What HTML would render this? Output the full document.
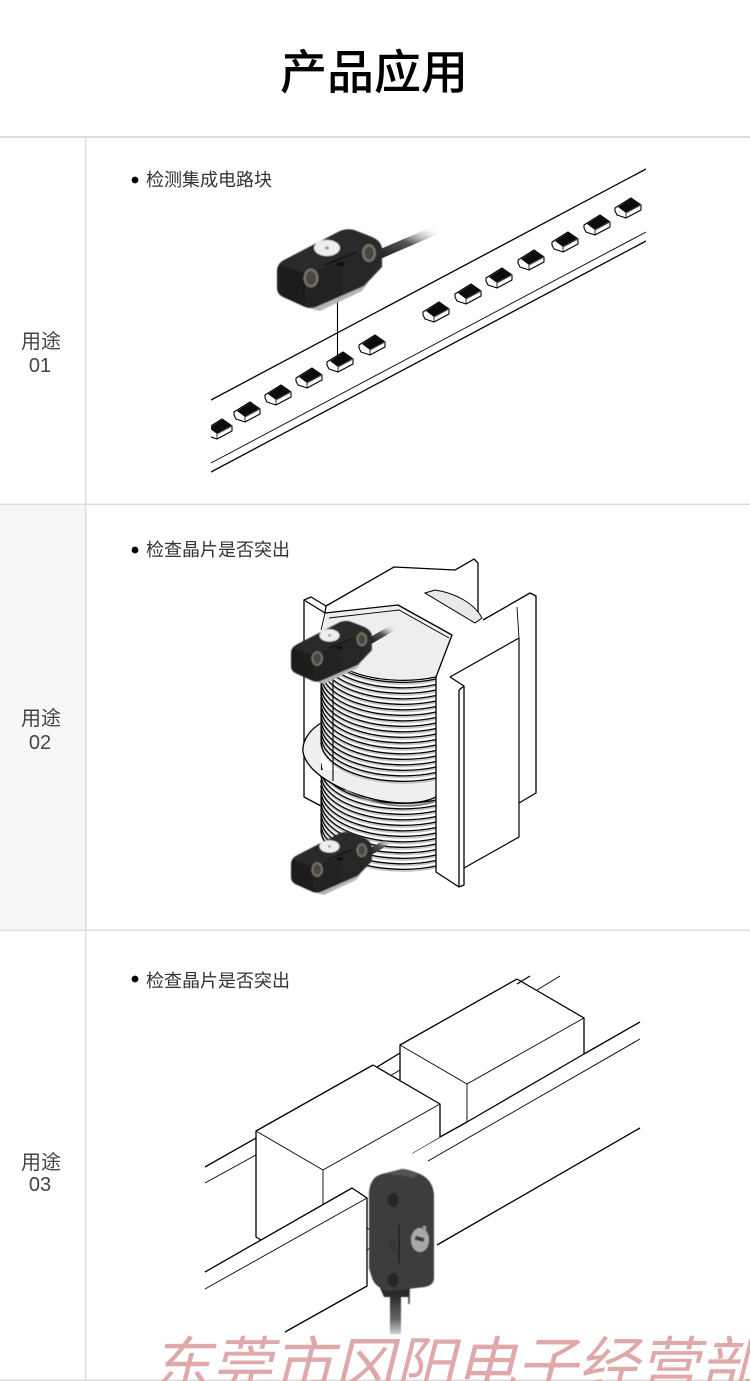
<!DOCTYPE html>
<html lang="zh"><head><meta charset="utf-8"><title>产品应用</title>
<style>
html,body{margin:0;padding:0;background:#fff}
svg{display:block}
text{font-family:"Liberation Sans","Noto Sans CJK SC",sans-serif}
.l{fill:none;stroke:#000;stroke-width:1.3;stroke-linejoin:round}
.t{fill:none;stroke:#000;stroke-width:.9}
</style></head><body>
<svg xmlns="http://www.w3.org/2000/svg" width="750" height="1381" viewBox="0 0 750 1381">
<defs>
<filter id="soft" x="-10%" y="-10%" width="120%" height="120%"><feGaussianBlur stdDeviation=".6"/></filter>
<clipPath id="c1"><rect x="211" y="160" width="435" height="320"/></clipPath>
<clipPath id="cw"><rect x="0" y="1300" width="750" height="81"/></clipPath>
<linearGradient id="cab" x1="0" y1="1" x2="1" y2="0"><stop offset="0" stop-color="#222"/><stop offset=".5" stop-color="#555"/><stop offset="1" stop-color="#ccc" stop-opacity="0"/></linearGradient>
<linearGradient id="fr" x1="0" y1="0" x2="1" y2="0"><stop offset="0" stop-color="#1c1c1c"/><stop offset="1" stop-color="#2a2a2a"/></linearGradient>
<linearGradient id="cab3" x1="0" y1="0" x2="0" y2="1"><stop offset="0" stop-color="#2c2c2c"/><stop offset=".6" stop-color="#666"/><stop offset="1" stop-color="#ccc"/></linearGradient>
<g id="chip">
<path d="M-13,0 3,-10 13,-3 13,2 -2,10 -11,7 -13,3Z" fill="#fff" stroke="#000" stroke-width="1.100" stroke-linejoin="round"/>
<path d="M-10,-1 4,-10 12,-3 -2,5Z" fill="#0c0c0c"/>
<path d="M-2,5 13,-3" fill="none" stroke="#555" stroke-width="1"/>
<path d="M-2,5 -2,10" fill="none" stroke="#000" stroke-width=".8"/>
</g>
<g id="sensor" filter="url(#soft)">
<path d="M286,297 L312,309 L320,311 L362,291 L368,283 L310,300Z" fill="#b5b5b5"/>
<path d="M286,259 L340,231 Q347,228 354,230 L372,237 Q381,241 382,248 L382,267 L364,286 L316,307 Q310,309 305,307 L283,297 Q277,294 277,288 L277,271 Q277,263 286,259Z" fill="url(#fr)"/>
<path d="M286,259 L340,231 Q347,228 354,230 L372,237 Q380,241 381,246 L316,271 Q308,274 302,272 L280,265 Z" fill="#2a2a2a"/>
<path d="M303,272 L304,306" stroke="#141414" stroke-width="1"/>
<ellipse cx="327" cy="248" rx="13" ry="8" fill="#eee"/><ellipse cx="327" cy="248" rx="2" ry="1.600" fill="#999"/>
<ellipse cx="311" cy="278" rx="7.500" ry="9.500" fill="#777269"/><ellipse cx="311" cy="278" rx="5" ry="7" fill="#4a4640"/>
<ellipse cx="369" cy="253" rx="7" ry="9" fill="#777269"/><ellipse cx="369" cy="253" rx="4.500" ry="6.500" fill="#4a4640"/>
<path d="M325,265 L357,252" stroke="#0a0a0a" stroke-width="1.500"/>
<rect x="337" y="262" width="7" height="4" fill="#0a0a0a"/>
</g>
<g id="a">
<path d="M321,-35 A82,40 0 0 0 436,1.600" fill="none" stroke="#c4c4c4" stroke-width="1.700"/>
<path d="M321,-36.600 A82,40 0 0 0 436,0" fill="none" stroke="#000" stroke-width="1.300"/>
</g>
</defs>

<!-- table -->
<rect x="0" y="505" width="85" height="425" fill="#f7f7f7"/>
<g fill="#ddd">
<rect x="0" y="136" width="750" height="2"/>
<rect x="0" y="503.500" width="750" height="1.500"/>
<rect x="0" y="929.500" width="750" height="1.500"/>
<rect x="0" y="1379.500" width="750" height="1.500"/>
<rect x="85" y="136" width="1.500" height="1245"/>
</g>

<text x="374" y="89" font-size="47" font-weight="500" text-anchor="middle" fill="#000" style="font-family:'Noto Sans CJK SC',sans-serif">产品应用</text>

<g font-size="20" fill="#444" text-anchor="middle">
<text x="41" y="348">用途</text><text x="40" y="372">01</text>
<text x="41" y="725">用途</text><text x="40" y="749">02</text>
<text x="41" y="1169">用途</text><text x="40" y="1191">03</text>
</g>
<g fill="#000"><circle cx="135" cy="180" r="3.400"/><circle cx="135" cy="550" r="3.400"/><circle cx="135" cy="979" r="3.400"/></g>
<g font-size="18" fill="#333">
<text x="146" y="186">检测集成电路块</text>
<text x="146" y="556">检查晶片是否突出</text>
<text x="146" y="987">检查晶片是否突出</text>
</g>

<!-- Section 1 -->
<g clip-path="url(#c1)">
<path class="l" d="M211,400 L646,169"/>
<path class="t" d="M211,463 L646,232"/>
<path class="l" d="M211,472 L646,241"/>
<use href="#chip" x="219" y="429"/>
<use href="#chip" x="247" y="412"/>
<use href="#chip" x="278" y="395"/>
<use href="#chip" x="309" y="378"/>
<use href="#chip" x="372" y="345"/>
<use href="#chip" x="436" y="312"/>
<use href="#chip" x="468" y="294"/>
<use href="#chip" x="499" y="278"/>
<use href="#chip" x="531" y="260"/>
<use href="#chip" x="565" y="242"/>
<use href="#chip" x="597" y="225"/>
<use href="#chip" x="628" y="208"/>
<use href="#chip" x="340" y="362"/>
</g>
<path d="M337.500,300V355" stroke="#000" stroke-width="1.100"/>
<path d="M378,255 L436,230" stroke="url(#cab)" stroke-width="9" fill="none"/>
<use href="#sensor"/>

<!-- Section 2 -->
<path class="l" d="M321,806 L304,797 V600 L311,597 L326,606 L394,567 L455,570 L474,559 L478,563 V613"/>
<path class="l" d="M304,600 L325,613 L326,606"/>
<path d="M425,593 L435,590 C455,593 474,603 482,618 L475,623 Z" fill="#e9e9e9" stroke="#000" stroke-width="1"/>
<path class="l" d="M483,620 L530,593 L536,596 V793 L519,803"/>
<path class="t" d="M517,607 L519,638"/>

<!-- lower coil -->
<path d="M321,780 H436 V866 A82,40 0 0 1 321,829.400Z" fill="#fff"/>
<g>
<use href="#a" y="800"/><use href="#a" y="805.500"/><use href="#a" y="811"/><use href="#a" y="816.500"/><use href="#a" y="822"/><use href="#a" y="827.500"/><use href="#a" y="833"/><use href="#a" y="838.500"/><use href="#a" y="844"/><use href="#a" y="849.500"/><use href="#a" y="855"/><use href="#a" y="860.500"/><use href="#a" y="866"/>
</g>
<path class="t" d="M321,790 V830"/>
<!-- disc -->
<path d="M321,723 C308,731 302,742 303,752 C308,780 365,803 405,803 C418,803 428,801 436,797 V770 H321Z" fill="#efefef"/>
<path d="M321,723 C308,731 302,742 303,752 C308,780 365,803 405,803 C418,803 428,801 436,797" fill="none" stroke="#000" stroke-width="1.300"/>
<path d="M345,790 C365,800 385,806 405,806 C418,806 428,804 436,801" fill="none" stroke="#777" stroke-width="1.500"/>
<!-- upper coil -->
<path d="M321,640 A82,40 0 0 0 436,677 V778 A82,40 0 0 1 321,741.400Z" fill="#fff"/>
<g>
<use href="#a" y="679"/><use href="#a" y="684.500"/><use href="#a" y="690"/><use href="#a" y="695.500"/><use href="#a" y="701"/><use href="#a" y="706.500"/><use href="#a" y="712"/><use href="#a" y="717.500"/><use href="#a" y="723"/><use href="#a" y="728.500"/><use href="#a" y="734"/><use href="#a" y="739.500"/><use href="#a" y="745"/><use href="#a" y="750.500"/><use href="#a" y="756"/><use href="#a" y="761.500"/><use href="#a" y="767"/><use href="#a" y="772.500"/><use href="#a" y="778"/>
</g>
<path class="t" d="M321,640 V741"/>
<!-- top disc -->
<path d="M321,640 L325,613 L399,606 L452,636 L436,677 A82,40 0 0 1 321,640Z" fill="#eee"/>
<path d="M321,640 A82,40 0 0 0 436,677" fill="none" stroke="#000" stroke-width="1.200"/>
<path class="l" d="M325,613 L398,605 L452,635 L436,677"/>
<path class="t" d="M329,618 L399,610 L449,638"/>
<path class="t" d="M321,630 L325,613"/>
<path d="M333,680 V781" stroke="#000" stroke-width="1.100"/>
<!-- front plates -->
<path d="M464,686 L519,638 V837 L464,868Z" fill="#fff"/>
<path d="M519,638 L450,677 M519,638 V837 L464,868" fill="none" stroke="#000" stroke-width="1.200"/>
<path d="M436,677 L450,677 L464,686 L459,690 V887 L436,872Z" fill="#fff" stroke="none"/>
<path class="l" d="M450,677 L464,686 L459,690 M459,690 V887 L436,872 V677 M459,887 L464,885 V686"/>
<path d="M370,641 L394,627" stroke="url(#cab)" stroke-width="6.500" fill="none"/>
<use href="#sensor" transform="translate(77.700,444.500) scale(.77)"/>
<path d="M370,852 L390,840" stroke="url(#cab)" stroke-width="6.500" fill="none"/>
<use href="#sensor" transform="translate(77.700,655.500) scale(.77)"/>

<!-- Section 3 -->
<path class="l" d="M530,976 L517,984 M400,1053 L377,1067"/>
<path class="t" d="M560,976 L537,990 M400,1070 L383,1080"/>
<path class="l" d="M517,979 L584,1018 V1054 M517,979 L400,1045 V1080"/>
<path class="t" d="M400,1045 L467,1084 L584,1018 M467,1084 V1122"/>
<path class="l" d="M640,1022 L584,1054 M467,1122 L440,1137 L412,1153 M584,1054 L467,1122"/>
<path class="t" d="M640,1039 L428,1161"/>
<path class="l" d="M640,1128 L437,1245"/>
<path d="M373,1065 L440,1104 V1137 L323,1205 H256 V1131Z" fill="#fff" stroke="none"/>
<path class="l" d="M373,1065 L440,1104 V1137 M373,1065 L256,1131 V1237 L261,1240"/>
<path class="t" d="M256,1131 L323,1170 L440,1104 M323,1170 V1205"/>
<path class="l" d="M205,1167 L256,1138"/>
<path class="t" d="M205,1183 L256,1155"/>
<path d="M205,1272 L352,1188 L367,1198 V1286 L285,1332 H205Z" fill="#fff" stroke="none"/>
<path class="l" d="M205,1272 L352,1188 L367,1198 V1286 L285,1332"/>
<path class="t" d="M205,1289 L367,1198 M367,1228 L372,1231 M367,1250 L372,1247"/>
<g filter="url(#soft)">
<rect x="390" y="1296" width="11" height="38" fill="url(#cab3)"/>
<path d="M380,1288 H410 L409,1297 H384Z" fill="#2a2a2a"/>
<path d="M409,1290 V1304" stroke="#333" stroke-width="1.500"/>
<path d="M373,1180 Q375,1176 382,1174 L402,1169 Q408,1169 420,1174 Q433,1180 434,1195 V1278 Q434,1285 425,1287 L390,1291 Q376,1289 372,1278 L369,1268 V1195 Q369,1185 373,1180Z" fill="#3c3c3c"/>
<path d="M382,1174 L402,1169 Q408,1169 420,1174 L412,1178 Q400,1174 382,1174Z" fill="#525252"/>
<ellipse cx="393" cy="1200" rx="5.500" ry="7" fill="#262626"/>
<ellipse cx="393" cy="1280" rx="5.500" ry="7" fill="#262626"/>
<path d="M399,1225 V1263" stroke="#1c1c1c" stroke-width="1.500"/>
<path d="M391,1240 V1250 M394,1237 V1252" stroke="#2a2a2a" stroke-width="1"/>
<ellipse cx="420" cy="1240" rx="9" ry="12" fill="#a8a8a8"/>
<rect x="415" y="1237" width="9" height="4" fill="#3a3a3a" transform="rotate(15 420 1239)"/>
<rect x="423" y="1226" width="3" height="5" fill="#999"/>
</g>

<!-- watermark -->
<g clip-path="url(#cw)">
<text x="150" y="1387" font-size="61" font-style="italic" fill="#e0a9a9" style="font-family:'Noto Sans CJK SC',sans-serif;font-weight:400">东莞市冈阳电子经营部</text>
</g>
</svg>
</body></html>
